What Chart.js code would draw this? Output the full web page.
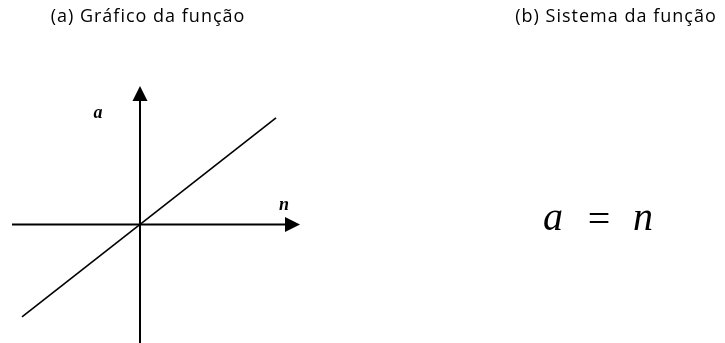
<!DOCTYPE html>
<html lang="pt">
<head>
<meta charset="utf-8">
<title>Gráfico da função a = n</title>
<script src="https://cdn.jsdelivr.net/npm/chart.js@4.4.1/dist/chart.umd.min.js"></script>
<style>
  html, body { margin: 0; padding: 0; background: #fff; }
  #wrap { position: relative; width: 725px; height: 343px; }
</style>
</head>
<body>
<div id="wrap"><canvas id="grafico"></canvas></div>
<script>
// valores de n e a = n
const nValores = [-2.95, 3.4];
const aValores = [-2.95, 3.4];

// limites dos eixos
const nLimites = [-3.2, 4.0];
const aLimites = [-3.78, 4.42];

const tituloA = '(a) Gráfico da função';
const tituloB = '(b) Sistema da função';
const equacao = ['a', '=', 'n'];
const rotuloX = 'n';
const rotuloY = 'a';

const pontos = nValores.map((n, i) => ({ x: n, y: aValores[i] }));

// eixos com setas e os textos
const eixosPlugin = {
  id: 'eixos',
  beforeDatasetsDraw(chart) {
    const { ctx, chartArea, scales } = chart;
    const x0 = scales.x.getPixelForValue(0);
    const y0 = scales.y.getPixelForValue(0);
    ctx.save();
    ctx.strokeStyle = '#000';
    ctx.fillStyle = '#000';
    ctx.lineWidth = 2;

    // eixo horizontal
    ctx.beginPath();
    ctx.moveTo(chartArea.left, y0);
    ctx.lineTo(chartArea.right - 12, y0);
    ctx.stroke();
    ctx.beginPath();
    ctx.moveTo(chartArea.right, y0);
    ctx.lineTo(chartArea.right - 15, y0 - 7.5);
    ctx.lineTo(chartArea.right - 15, y0 + 7.5);
    ctx.closePath();
    ctx.fill();

    // eixo vertical
    ctx.beginPath();
    ctx.moveTo(x0, chartArea.bottom);
    ctx.lineTo(x0, chartArea.top + 12);
    ctx.stroke();
    ctx.beginPath();
    ctx.moveTo(x0, chartArea.top);
    ctx.lineTo(x0 - 7.5, chartArea.top + 15);
    ctx.lineTo(x0 + 7.5, chartArea.top + 15);
    ctx.closePath();
    ctx.fill();
    ctx.restore();
  },
  afterDraw(chart) {
    const { ctx, chartArea, scales } = chart;
    const x0 = scales.x.getPixelForValue(0);
    const y0 = scales.y.getPixelForValue(0);
    ctx.save();
    ctx.fillStyle = '#000';
    ctx.textBaseline = 'middle';
    ctx.textAlign = 'center';

    // rótulos dos eixos
    ctx.font = 'italic bold 18px "Liberation Serif", serif';
    ctx.fillText(rotuloY, x0 - 42, chartArea.top + 27);
    ctx.fillText(rotuloX, chartArea.right - 16, y0 - 19);

    // títulos
    ctx.font = '18px "Open Sans", sans-serif';
    ctx.letterSpacing = '1px';
    ctx.fillText(tituloA, 148, 17);
    ctx.fillText(tituloB, 616, 17);
    ctx.letterSpacing = '0px';

    // equação
    ctx.font = 'italic 40px "Liberation Serif", serif';
    ctx.fillText(equacao[0], 553, 219);
    ctx.font = '40px "Liberation Serif", serif';
    ctx.fillText(equacao[1], 599, 221);
    ctx.font = 'italic 40px "Liberation Serif", serif';
    ctx.fillText(equacao[2], 643, 219);
    ctx.restore();
  }
};

new Chart(document.getElementById('grafico'), {
  type: 'scatter',
  data: {
    datasets: [{
      data: pontos,
      showLine: true,
      borderColor: '#000',
      borderWidth: 1.6,
      pointRadius: 0,
      fill: false
    }]
  },
  options: {
    responsive: true,
    maintainAspectRatio: false,
    animation: false,
    layout: { padding: { left: 12, right: 425, top: 86, bottom: 0 } },
    plugins: {
      legend: { display: false },
      tooltip: { enabled: false }
    },
    scales: {
      x: { type: 'linear', display: false, min: nLimites[0], max: nLimites[1] },
      y: { type: 'linear', display: false, min: aLimites[0], max: aLimites[1] }
    }
  },
  plugins: [eixosPlugin]
});
</script>
</body>
</html>
